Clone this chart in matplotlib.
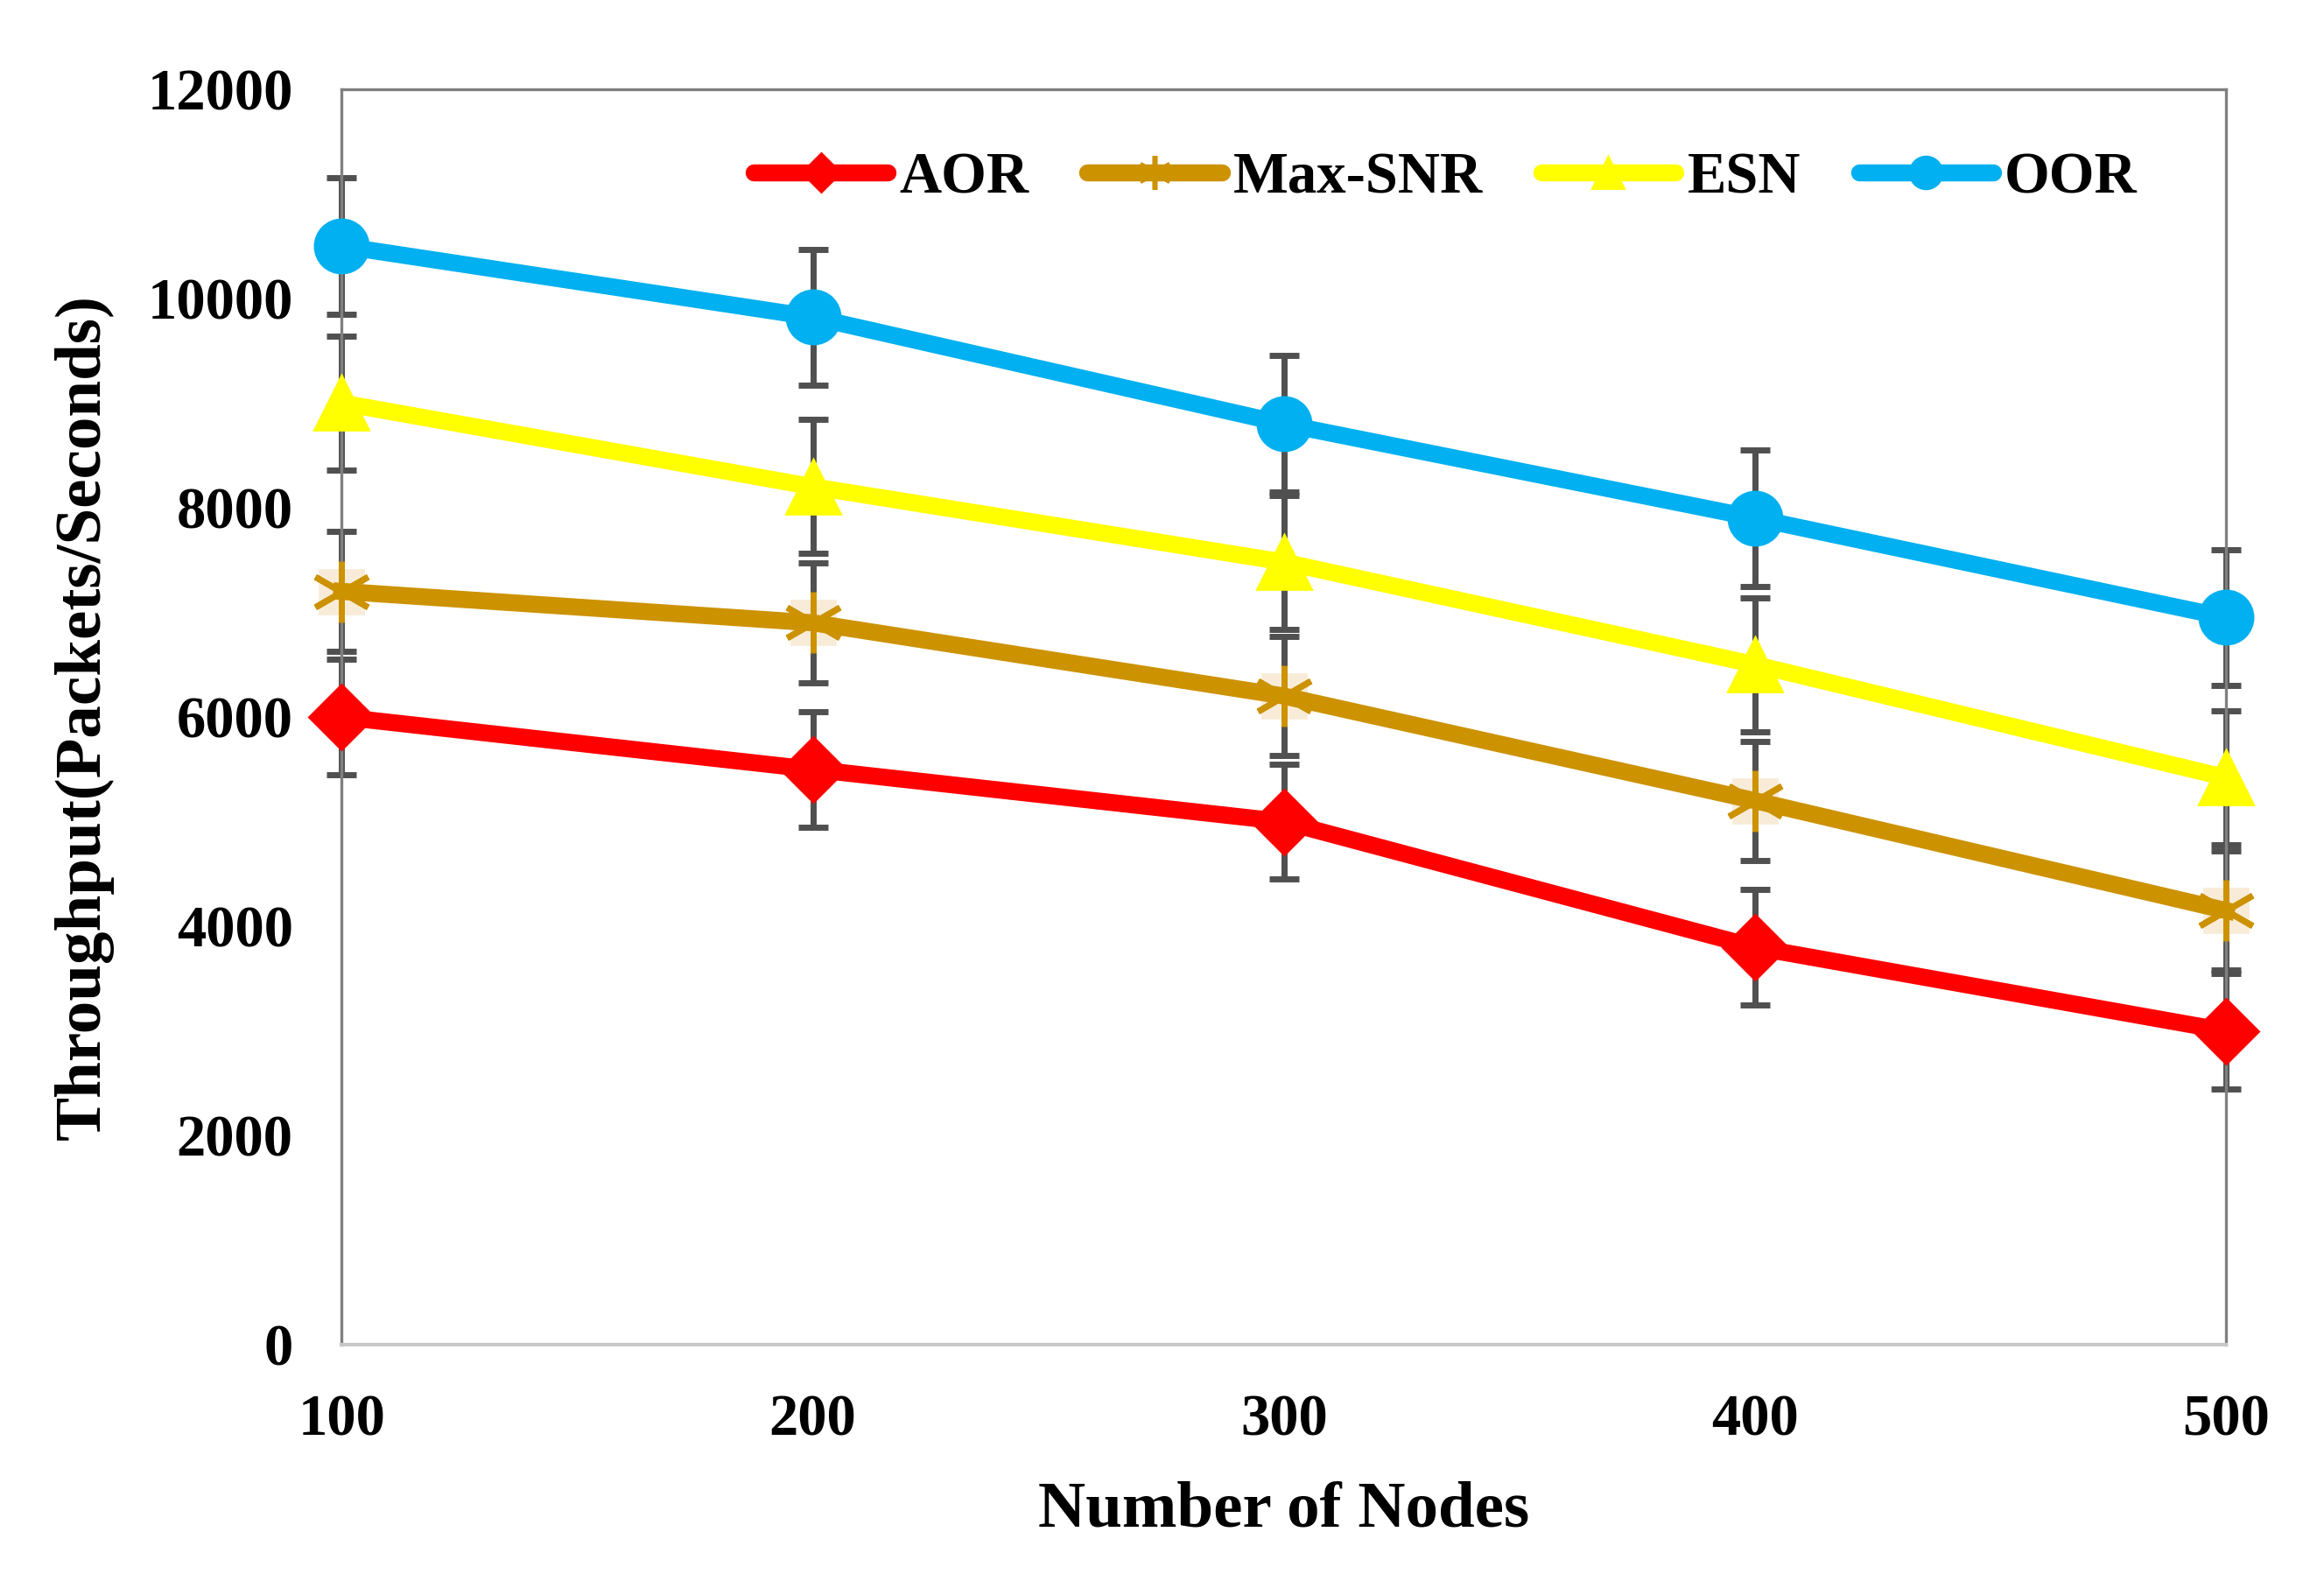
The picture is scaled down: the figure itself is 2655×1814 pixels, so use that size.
import matplotlib.pyplot as plt
from matplotlib.lines import Line2D

nodes = [100, 200, 300, 400, 500]
aor = [6000, 5500, 5000, 3800, 3000]
max_snr = [7200, 6900, 6200, 5200, 4150]
esn = [9000, 8200, 7480, 6500, 5420]
oor = [10500, 9820, 8800, 7900, 6950]
err_aor = 550
err_max_snr = 570
err_esn = 640
err_oor = 650

plt.rcParams['font.family'] = 'Liberation Serif'
plt.rcParams['font.weight'] = 'bold'

series = [
    ('AOR', aor, err_aor, '#ff0000', 'D', 19),
    ('Max-SNR', max_snr, err_max_snr, '#cc9200', (6, 2, 0), 25),
    ('ESN', esn, err_esn, '#ffff00', '^', 22),
    ('OOR', oor, err_oor, '#00b0f0', 'o', 22),
]

fig = plt.figure(figsize=(13.275, 9.07), dpi=200)
ax = fig.add_axes([0.147, 0.153, 0.811, 0.791])

# error bars first so lines sit on top
for name, vals, err, color, marker, ms in series:
    ax.errorbar(nodes, vals, yerr=err, fmt='none', ecolor='#505050',
                elinewidth=2.5, capsize=6, capthick=2.5, zorder=2, clip_on=False)

handles = []
for name, vals, err, color, marker, ms in series:
    if name == 'Max-SNR':
        ax.plot(nodes, vals, linestyle='none', marker='s', ms=18,
                color='#f8ecd8', zorder=2.5, clip_on=False)
        ax.plot(nodes, vals, color=color, lw=7, marker=marker, ms=ms,
                mew=2.5, zorder=3, clip_on=False)
        handles.append(Line2D([], [], color=color, lw=7, marker=marker, ms=14,
                              mew=2, solid_capstyle='round'))
    else:
        ax.plot(nodes, vals, color=color, lw=7, marker=marker, ms=ms,
                mec=color, zorder=3, clip_on=False)
        handles.append(Line2D([], [], color=color, lw=7, marker=marker,
                              ms=ms * 0.6, mec=color, solid_capstyle='round'))

ax.set_xlim(100, 500)
ax.set_ylim(0, 12000)
ax.set_xticks(nodes)
ax.set_yticks(range(0, 12001, 2000))
ax.tick_params(length=0, pad=20, labelsize=24)
for sp in ['left', 'top', 'right']:
    ax.spines[sp].set_color('#808080')
    ax.spines[sp].set_linewidth(1.2)
ax.spines['bottom'].set_color('#c8c8c8')
ax.spines['bottom'].set_linewidth(1.5)

ax.set_xlabel('Number of Nodes', fontsize=27, fontweight='bold', labelpad=14)
ax.set_ylabel('Throughput(Packets/Seconds)', fontsize=27, fontweight='bold', labelpad=14)

fig.legend(handles, [s[0] for s in series], loc='center',
           bbox_to_anchor=(0.622, 0.8875), ncol=4, frameon=False,
           fontsize=24, handlelength=2.3, handletextpad=0.2, columnspacing=1.0)

fig.savefig('out.png', dpi=200)
